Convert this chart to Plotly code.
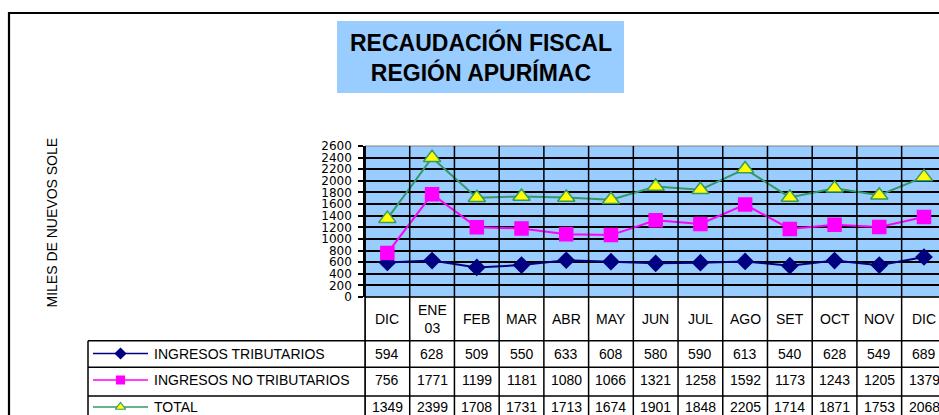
import plotly.graph_objects as go

# ---------------- data ----------------
categories = ["DIC", "ENE<br>03", "FEB", "MAR", "ABR", "MAY", "JUN", "JUL",
              "AGO", "SET", "OCT", "NOV", "DIC"]
tributarios = [594, 628, 509, 550, 633, 608, 580, 590, 613, 540, 628, 549, 689]
no_tributarios = [756, 1771, 1199, 1181, 1080, 1066, 1321, 1258, 1592, 1173, 1243, 1205, 1379]
total = [1349, 2399, 1708, 1731, 1713, 1674, 1901, 1848, 2205, 1714, 1871, 1753, 2068]
series_names = ["INGRESOS TRIBUTARIOS", "INGRESOS NO TRIBUTARIOS", "TOTAL"]
y_tick_values = [0, 200, 400, 600, 800, 1000, 1200, 1400, 1600, 1800, 2000, 2200, 2400, 2600]
title_text = "RECAUDACIÓN FISCAL<br>REGIÓN APURÍMAC"
y_title = "MILES DE NUEVOS SOLE"

# ---------------- layout geometry (screen pixels) ----------------
W, H = 939, 415
PL, PR, PT, PB = 365, 939, 146, 297
COLW = 44.72
XMAX = -0.5 + (PR - PL) / COLW

def xp(px):
    return px / W

def yp(py):
    return 1 - py / H

FONT = "Liberation Sans, Arial, sans-serif"

series = [
    dict(name=series_names[0], y=tributarios, color="#000080",
         symbol="diamond", size=12, fill="#000080", mline="#000080"),
    dict(name=series_names[1], y=no_tributarios, color="#FF00FF",
         symbol="square", size=13, fill="#FF00FF", mline="#FF00FF"),
    dict(name=series_names[2], y=total, color="#339966",
         symbol="triangle-up", size=15, fill="#FFFF00", mline="#339966"),
]

fig = go.Figure()
xs = list(range(len(categories)))
for s in series:
    fig.add_trace(go.Scatter(
        x=xs, y=s["y"], mode="lines+markers", name=s["name"],
        line=dict(color=s["color"], width=2),
        marker=dict(symbol=s["symbol"], size=s["size"], color=s["fill"],
                    line=dict(color=s["mline"], width=1.5)),
        showlegend=False, xaxis="x", yaxis="y",
    ))

# legend-key markers in the data table (pixel overlay axes)
row_centers = [353.5, 380.0, 407.0]
for s, rc in zip(series, row_centers):
    fig.add_trace(go.Scatter(
        x=[120.5], y=[rc], mode="markers", showlegend=False,
        marker=dict(symbol=s["symbol"], size=8 if s["symbol"] != "triangle-up" else 9,
                    color=s["fill"], line=dict(color=s["mline"], width=1.2)),
        xaxis="x2", yaxis="y2", cliponaxis=False, hoverinfo="skip",
    ))

shapes = []
# outer frame
shapes.append(dict(type="rect", xref="paper", yref="paper",
                   x0=xp(9), x1=xp(960), y0=yp(13), y1=yp(440),
                   line=dict(color="black", width=2.2), layer="below"))
# title box
shapes.append(dict(type="rect", xref="paper", yref="paper",
                   x0=xp(337), x1=xp(624), y0=yp(21), y1=yp(93),
                   fillcolor="#99CCFF", line=dict(width=0), layer="below"))
# plot area background
shapes.append(dict(type="rect", xref="paper", yref="paper",
                   x0=xp(PL), x1=xp(PR + 20), y0=yp(PB), y1=yp(PT),
                   fillcolor="#99CCFF", line=dict(color="#808080", width=1), layer="below"))
# column separators (plot + table)
for k in range(len(categories) + 1):
    shapes.append(dict(type="line", xref="x", yref="paper",
                       x0=k - 0.5, x1=k - 0.5, y0=yp(PT), y1=yp(430),
                       line=dict(color="black", width=1.5)))
# left line of plot / header column
shapes.append(dict(type="line", xref="paper", yref="paper",
                   x0=xp(PL), x1=xp(PL), y0=yp(PT), y1=yp(430),
                   line=dict(color="black", width=1.5)))
# table horizontal lines
shapes.append(dict(type="line", xref="paper", yref="paper",
                   x0=xp(PL), x1=xp(960), y0=yp(PB), y1=yp(PB),
                   line=dict(color="black", width=1.5)))
for ly in [340.7, 367.3, 396.0, 423.0]:
    shapes.append(dict(type="line", xref="paper", yref="paper",
                       x0=xp(88), x1=xp(960), y0=yp(ly), y1=yp(ly),
                       line=dict(color="black", width=1.5)))
# legend column left border
shapes.append(dict(type="line", xref="paper", yref="paper",
                   x0=xp(88), x1=xp(88), y0=yp(340.7), y1=yp(430),
                   line=dict(color="black", width=1.5)))
# legend key lines
for s, rc in zip(series, row_centers):
    shapes.append(dict(type="line", xref="paper", yref="paper",
                       x0=xp(93), x1=xp(148), y0=yp(rc), y1=yp(rc),
                       line=dict(color=s["color"], width=1.5), layer="below"))

annotations = []
annotations.append(dict(text="<b>" + title_text + "</b>", xref="paper", yref="paper",
                        x=xp(480.5), y=yp(58), showarrow=False,
                        xanchor="center", yanchor="middle",
                        font=dict(family=FONT, size=23, color="black")))
annotations.append(dict(text=y_title, xref="paper", yref="paper",
                        x=xp(51), y=yp(222.5), showarrow=False, textangle=-90,
                        xanchor="center", yanchor="middle",
                        font=dict(family=FONT, size=14, color="black")))
# category header
for i, c in enumerate(categories):
    annotations.append(dict(text=c, xref="x", yref="paper", x=i, y=yp(319),
                            showarrow=False, xanchor="center", yanchor="middle",
                            font=dict(family=FONT, size=14, color="black")))
# values
for s, rc in zip(series, row_centers):
    for i, v in enumerate(s["y"]):
        annotations.append(dict(text=str(v), xref="x", yref="paper", x=i, y=yp(rc),
                                showarrow=False, xanchor="center", yanchor="middle",
                                font=dict(family=FONT, size=14, color="black")))
    annotations.append(dict(text=s["name"], xref="paper", yref="paper",
                            x=xp(151.5), y=yp(rc), showarrow=False,
                            xanchor="left", yanchor="middle",
                            font=dict(family=FONT, size=14, color="black")))

fig.update_layout(
    width=W, height=H,
    margin=dict(l=0, r=0, t=0, b=0, autoexpand=False),
    paper_bgcolor="white", plot_bgcolor="rgba(0,0,0,0)",
    showlegend=False,
    xaxis=dict(domain=[xp(PL), 1], range=[-0.5, XMAX], showgrid=False,
               showticklabels=False, zeroline=False, showline=False, ticks=""),
    yaxis=dict(domain=[yp(PB), yp(PT)], range=[0, 2600], tickvals=y_tick_values,
               showgrid=True, gridcolor="black", gridwidth=1.5, zeroline=False,
               showline=True, linecolor="black", linewidth=1.5,
               ticks="outside", ticklen=5, tickcolor="black", tickwidth=1.5,
               ticklabelstandoff=4,
               tickfont=dict(family="DejaVu Sans, sans-serif", size=12, color="black")),
    xaxis2=dict(domain=[0, 1], range=[0, W], visible=False, anchor="y2"),
    yaxis2=dict(domain=[0, 1], range=[H, 0], visible=False, anchor="x2"),
    shapes=shapes, annotations=annotations,
)

fig.write_html(
    "out.html",
    config={"displayModeBar": False},
    post_script="document.body.style.margin='0';document.body.style.overflow='hidden';",
)
